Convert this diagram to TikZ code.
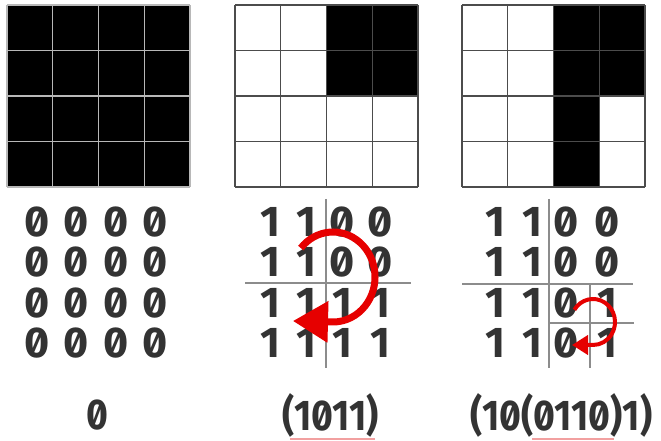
\documentclass[tikz,border=0pt]{standalone}
\usepackage{fontspec}
\newfontfamily\digitfont{Fira Sans}[RawFeature=+zero]
\usetikzlibrary{arrows.meta}
\definecolor{digitgray}{HTML}{333333}
\definecolor{arrred}{HTML}{E60000}
\definecolor{pinkline}{HTML}{F2A0A0}
\tikzset{
  digit/.style={inner sep=0pt, text=digitgray, font=\digitfont\bfseries\fontsize{43}{43}\selectfont},
  lab/.style={inner sep=0pt, text=digitgray, xscale=0.87, font=\digitfont\bfseries\fontsize{43}{43}\selectfont},
  lightgrid/.style={draw=black!28, line width=1.2pt},
  darkgrid/.style={draw=black!70, line width=1.2pt},
  divline/.style={draw=black!45, line width=1.5pt},
  bigarrow/.style={draw=arrred, line width=7pt, -{Triangle[length=35pt,width=40pt]}},
  smallarrow/.style={draw=arrred, line width=4pt, -{Triangle[length=16pt,width=19pt]}},
  uline/.style={draw=pinkline, line width=2pt}
}
\begin{document}
\begin{tikzpicture}[x=1pt,y=1pt]
\useasboundingbox (0,0) rectangle (661,441);
% grid 1
\begin{scope}[shift={(7,254)}]
  \fill[black] (0,0) rectangle (183,182);
  \draw[lightgrid,xstep=45.75,ystep=45.5] (0,0) grid (183,182);
\end{scope}
% grid 2
\begin{scope}[shift={(235,254)}]
  \fill[black] (91.5,91) rectangle (183,182);
  \draw[darkgrid,xstep=45.75,ystep=45.5] (0,0) grid (183,182);
\end{scope}
% grid 3
\begin{scope}[shift={(462,254)}]
  \fill[black] (91.5,91) rectangle (183,182);
  \fill[black] (91.5,0) rectangle (137.25,91);
  \draw[darkgrid,xstep=45.75,ystep=45.5] (0,0) grid (183,182);
\end{scope}
% matrix 1
\foreach \r/\y in {1/219,2/179,3/138,4/98}{
  \foreach \c/\x in {1/37,2/76,3/116,4/155}{
    \node[digit] (a\r\c) at (\x,\y) {0};
  }
}
% matrix 2
\foreach \r/\y/\va/\vb/\vc/\vd in {1/219/1/1/0/0,2/179/1/1/0/0,3/138/1/1/1/1,4/98/1/1/1/1}{
  \node[digit] (b\r1) at (270,\y) {\va};
  \node[digit] (b\r2) at (306,\y) {\vb};
  \node[digit] (b\r3) at (342,\y) {\vc};
  \node[digit] (b\r4) at (380,\y) {\vd};
}
% matrix 3
\foreach \r/\y/\va/\vb/\vc/\vd in {1/219/1/1/0/0,2/179/1/1/0/0,3/138/1/1/0/1,4/98/1/1/0/1}{
  \node[digit] (c\r1) at (495,\y) {\va};
  \node[digit] (c\r2) at (532,\y) {\vb};
  \node[digit] (c\r3) at (566,\y) {\vc};
  \node[digit] (c\r4) at (607,\y) {\vd};
}
% dividing lines
\draw[divline] (326,242) -- (326,73);
\draw[divline] (245,158) -- (411,158);
\draw[divline] (549,242) -- (549,73);
\draw[divline] (462,157) -- (633,157);
\draw[divline] (590,157) -- (590,73);
\draw[divline] (549,118) -- (634,118);
% arrows
\coordinate (bigtip) at (293,120);
\coordinate (smalltip) at (572,96);
\draw[bigarrow] (333,164) ++(140:42pt and 45pt) arc[start angle=140,end angle=-90,x radius=42pt,y radius=45pt] -- (bigtip);
\draw[smallarrow] (593,119) ++(148:22pt and 23pt) arc[start angle=148,end angle=-90,x radius=22pt,y radius=23pt] -- (smalltip);
% labels
\node[lab] (l1) at (97,26) {0};
\node[lab] (l2) at (331,26) {(1011)};
\node[lab] (l3) at (561.5,26) {(10(0110)1)};
\draw[uline] (290,1.5) -- (375,1.5);
\draw[uline] (532,1.5) -- (614,1.5);
\end{tikzpicture}
\end{document}
